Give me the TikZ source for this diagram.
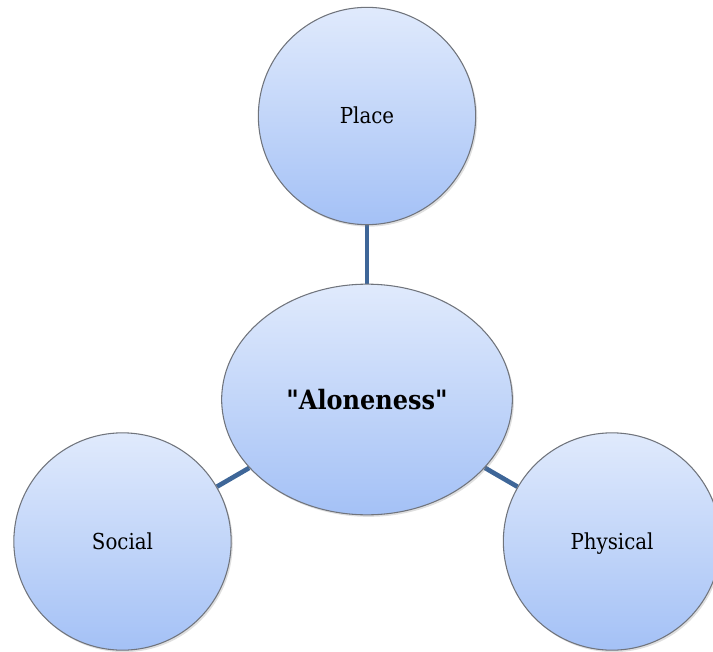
\documentclass[tikz,border=0pt]{standalone}
\usepackage{fontspec}
\setmainfont{DejaVu Serif Condensed}
\usetikzlibrary{shapes.geometric,shadows,backgrounds}

\definecolor{bubbletop}{RGB}{224,234,252}
\definecolor{bubblebottom}{RGB}{164,193,246}
\definecolor{bubbleedge}{RGB}{112,116,124}
\definecolor{linkblue}{RGB}{62,102,152}

\tikzset{
  bubble/.style={draw=bubbleedge, line width=0.8pt, inner sep=0pt,
    top color=bubbletop, bottom color=bubblebottom,
    drop shadow={shadow xshift=1.2pt, shadow yshift=-1.5pt, opacity=0.25},
    text height=12pt, text depth=0pt,
    font=\fontsize{16.5}{19}\selectfont},
  smallbubble/.style={bubble, circle, minimum size=163pt},
  hubbubble/.style={bubble, ellipse, minimum width=218pt, minimum height=173pt,
    text height=14.6pt, font=\fontsize{20}{24}\selectfont\bfseries},
  link/.style={draw=linkblue, line width=3.5pt}
}

\begin{document}
\begin{tikzpicture}[x=0.75pt, y=-0.75pt]
  \useasboundingbox (0,0) rectangle (713,652);

  \node[smallbubble] (place)    at (367,116)   {Place};
  \node[hubbubble]   (alone)    at (367,399.5) {\textquotedbl Aloneness\textquotedbl};
  \node[smallbubble] (social)   at (122.5,541.5) {Social};
  \node[smallbubble] (physical) at (612,541.5)  {Physical};

  \begin{pgfonlayer}{background}
    \draw[link] (place) -- (alone);
    \draw[link] (social) -- (alone);
    \draw[link] (physical) -- (alone);
  \end{pgfonlayer}
\end{tikzpicture}
\end{document}
